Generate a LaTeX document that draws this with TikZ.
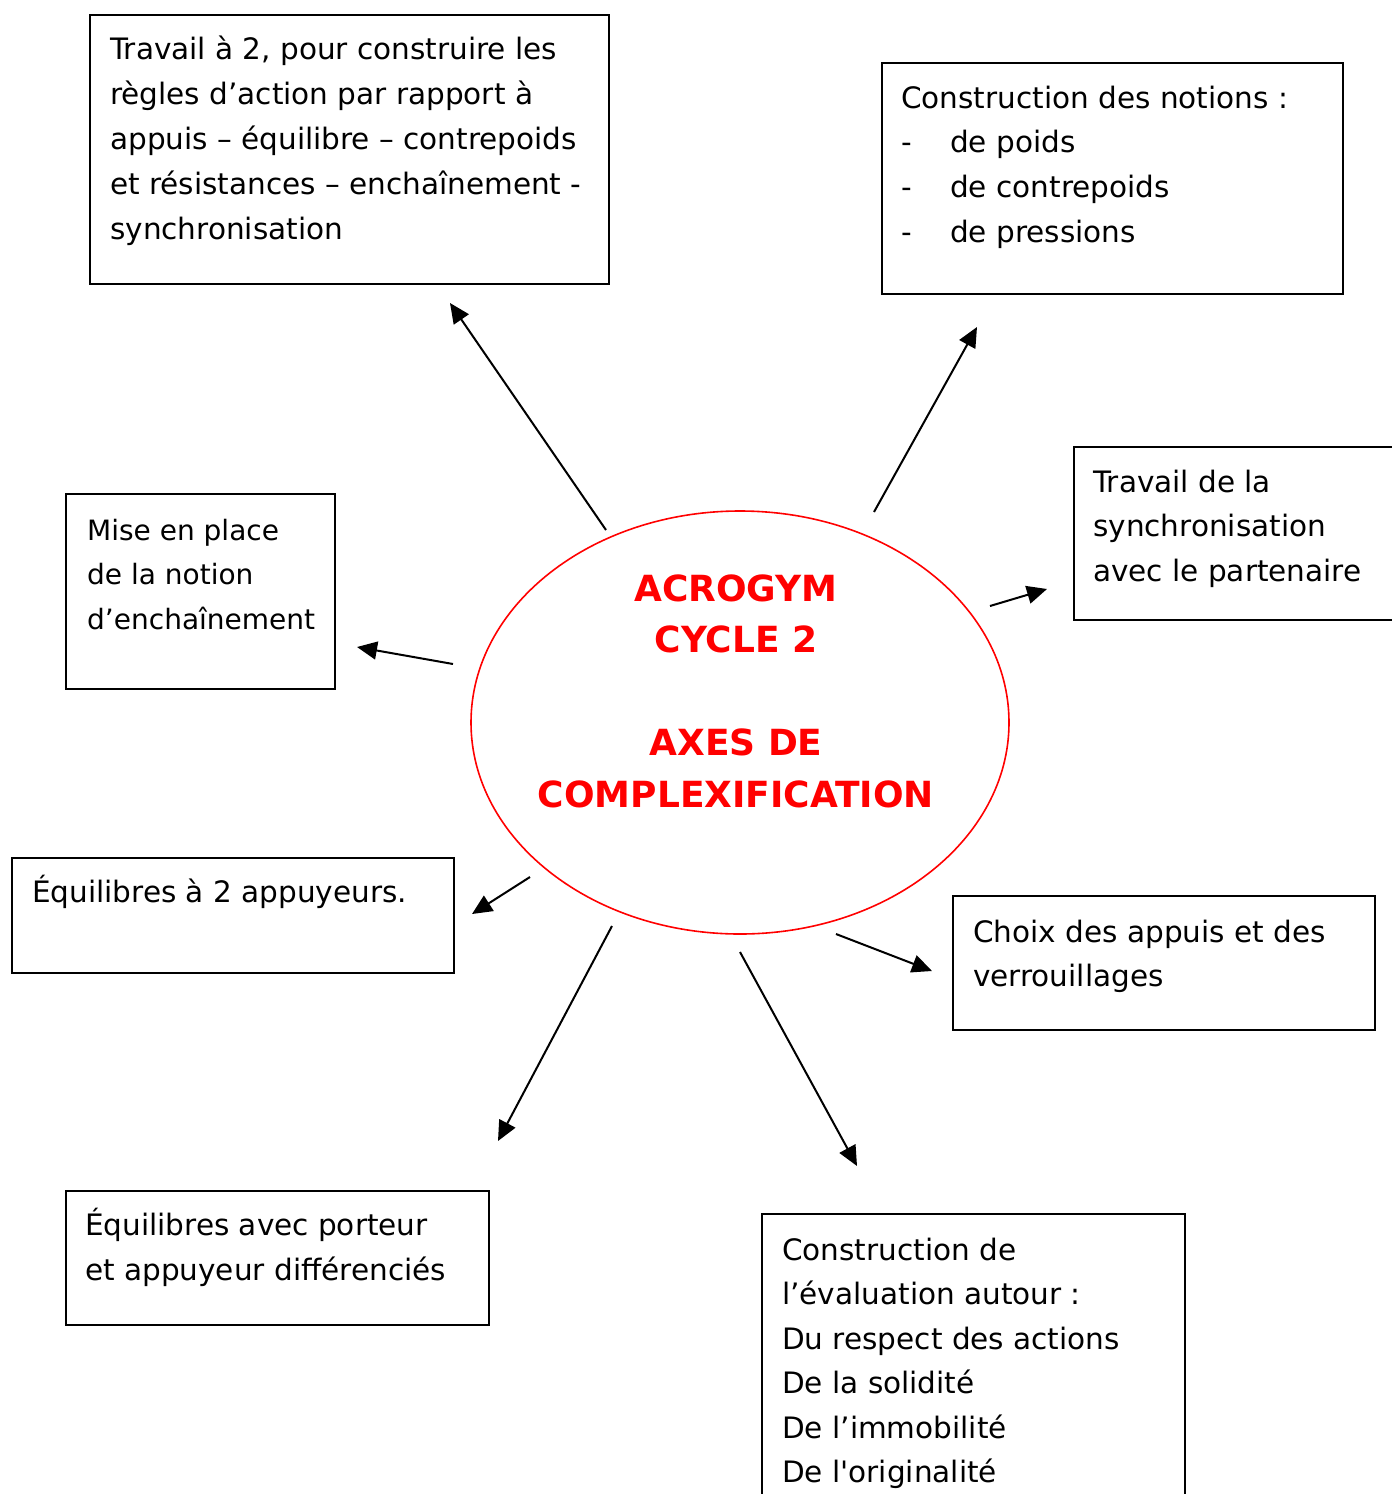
\documentclass[tikz,border=0pt]{standalone}
\usepackage{fontspec}
\setmainfont{DejaVu Sans}[Ligatures=TeXOff]
\usetikzlibrary{arrows.meta,shapes.geometric}
\begin{document}
\begin{tikzpicture}[x=1pt,y=-1pt,
  box/.style={draw=black, line width=1.8pt, inner sep=0pt, anchor=north west},
  txt/.style={anchor=base west, inner sep=0pt, font=\fontsize{29.5}{45}\selectfont},
  arr/.style={line width=2pt, -{Triangle[length=20pt,width=18pt]}},
]
\useasboundingbox (0,0) rectangle (1392,1494);
\fill[white] (0,0) rectangle (1392,1494);

% central ellipse
\node[draw=red, line width=1.6pt, ellipse, minimum width=538pt, minimum height=423pt, inner sep=0pt] (ell) at (740,722.5) {};
\node[anchor=base, inner sep=0pt, text=red, font=\fontsize{36}{51.5}\selectfont\bfseries] (title) at (736,601)
  {\begin{tabular}[t]{@{}c@{}}ACROGYM\\CYCLE 2\\ \\AXES DE\\COMPLEXIFICATION\end{tabular}};

% boxes
\node[box, minimum width=519pt, minimum height=269pt] (b1) at (89,14) {};
\node[txt] (t1) at (110,59) {\begin{tabular}[t]{@{}l@{}}Travail à 2, pour construire les\\règles d’action par rapport à\\appuis – équilibre – contrepoids\\et résistances – enchaînement -\\synchronisation\end{tabular}};

\node[box, minimum width=461pt, minimum height=231pt] (b2) at (881,62) {};
\node[txt, font=\fontsize{29.5}{44.7}\selectfont] (t2) at (901,108) {\begin{tabular}[t]{@{}l@{}}Construction des notions :\\\makebox[49pt][l]{-}de poids\\\makebox[49pt][l]{-}de contrepoids\\\makebox[49pt][l]{-}de pressions\end{tabular}};

\node[box, minimum width=323pt, minimum height=173pt] (b3) at (1073,446) {};
\node[txt, font=\fontsize{29.5}{44.5}\selectfont] (t3) at (1093,492) {\begin{tabular}[t]{@{}l@{}}Travail de la\\synchronisation\\avec le partenaire\end{tabular}};

\node[box, minimum width=269pt, minimum height=195pt] (b4) at (65,493) {};
\node[txt, font=\fontsize{28}{44.5}\selectfont] (t4) at (87,540) {\begin{tabular}[t]{@{}l@{}}Mise en place\\de la notion\\d’enchaînement\end{tabular}};

\node[box, minimum width=442pt, minimum height=115pt] (b5) at (11,857) {};
\node[txt] (t5) at (32,902) {Équilibres à 2 appuyeurs.};

\node[box, minimum width=422pt, minimum height=134pt] (b6) at (952,895) {};
\node[txt, font=\fontsize{29.5}{44}\selectfont] (t6) at (973,942) {\begin{tabular}[t]{@{}l@{}}Choix des appuis et des\\verrouillages\end{tabular}};

\node[box, minimum width=423pt, minimum height=134pt] (b7) at (65,1190) {};
\node[txt] (t7) at (85,1235) {\begin{tabular}[t]{@{}l@{}}Équilibres avec porteur\\et appuyeur différenciés\end{tabular}};

\node[box, minimum width=423pt, minimum height=320pt] (b8) at (761,1213) {};
\node[txt, font=\fontsize{29.5}{44.5}\selectfont] (t8) at (782,1260) {\begin{tabular}[t]{@{}l@{}}Construction de\\l’évaluation autour :\\Du respect des actions\\De la solidité\\De l’immobilité\\De l'originalité\end{tabular}};

% connector end points
\coordinate (s1) at (606,530);  \coordinate (e1) at (450,303);
\coordinate (s2) at (874,512);  \coordinate (e2) at (977,327);
\coordinate (s3) at (990,606);  \coordinate (e3) at (1047,589);
\coordinate (s4) at (453,664);  \coordinate (e4) at (357,647);
\coordinate (s5) at (530,877);  \coordinate (e5) at (472,914);
\coordinate (s6) at (612,926);  \coordinate (e6) at (498,1141);
\coordinate (s7) at (740,952);  \coordinate (e7) at (857,1166);
\coordinate (s8) at (836,934);  \coordinate (e8) at (932,971);

\foreach \i in {1,...,8} { \draw[arr] (s\i) -- (e\i); }
\end{tikzpicture}
\end{document}
